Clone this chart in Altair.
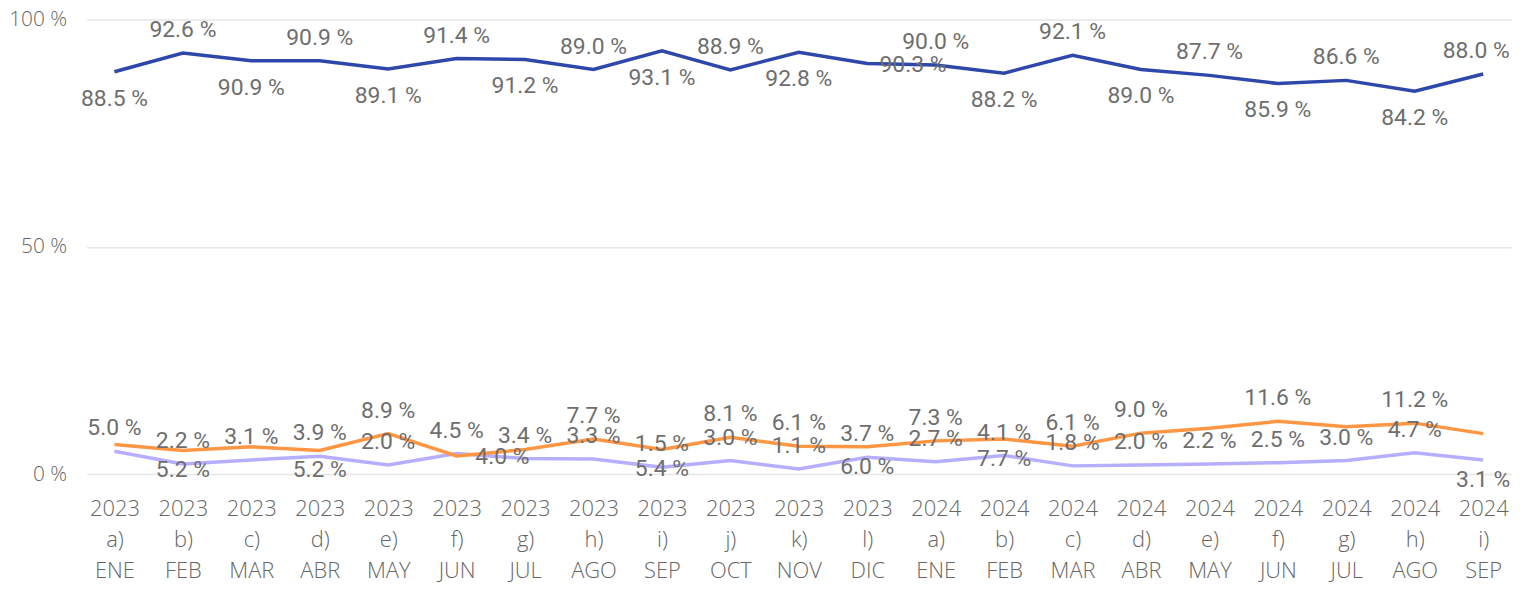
import altair as alt
import pandas as pd

years = ["2023"] * 12 + ["2024"] * 9
letters = ["a)", "b)", "c)", "d)", "e)", "f)", "g)", "h)", "i)", "j)", "k)", "l)",
           "a)", "b)", "c)", "d)", "e)", "f)", "g)", "h)", "i)"]
months = ["ENE", "FEB", "MAR", "ABR", "MAY", "JUN", "JUL", "AGO", "SEP", "OCT", "NOV", "DIC",
          "ENE", "FEB", "MAR", "ABR", "MAY", "JUN", "JUL", "AGO", "SEP"]

series_names = ["Sí", "No", "No sabe"]
series_colors = ["#2D47AA", "#FF9643", "#B6AEFF"]

blue = [88.5, 92.6, 90.9, 90.9, 89.1, 91.4, 91.2, 89.0, 93.1, 88.9, 92.8, 90.3,
        90.0, 88.2, 92.1, 89.0, 87.7, 85.9, 86.6, 84.2, 88.0]
orange = [6.5, 5.2, 6.0, 5.2, 8.9, 4.0, 5.4, 7.7, 5.4, 8.1, 6.1, 6.0,
          7.3, 7.7, 6.1, 9.0, 10.1, 11.6, 10.4, 11.2, 8.9]
lavender = [5.0, 2.2, 3.1, 3.9, 2.0, 4.5, 3.4, 3.3, 1.5, 3.0, 1.1, 3.7,
            2.7, 4.1, 1.8, 2.0, 2.2, 2.5, 3.0, 4.7, 3.1]

# label placement relative to each point ("" = label hidden, as in the original)
blue_place = ["below", "above", "below", "above", "below", "above", "below", "above", "below",
              "above", "below", "right", "above", "below", "above", "below", "above", "below",
              "above", "below", "aboveleft"]
orange_place = ["", "below", "", "below", "above", "right", "", "above", "below", "above",
                "above", "below", "above", "below", "above", "above", "", "above", "",
                "above", ""]
lavender_place = ["above"] * 20 + ["below"]

cats = [f"{y}|{l}|{m}" for y, l, m in zip(years, letters, months)]

rows = []
for name, vals, places in zip(series_names, [blue, orange, lavender],
                              [blue_place, orange_place, lavender_place]):
    for c, v, p in zip(cats, vals, places):
        rows.append({"cat": c, "serie": name, "valor": v, "pos": p,
                     "txt": f"{v:.1f} %"})
df = pd.DataFrame(rows)

x = alt.X("cat:N", sort=cats, title=None,
          scale=alt.Scale(type="point", padding=0.407),
          axis=alt.Axis(labelExpr="split(datum.label, '|')", labelAngle=0,
                        labelLineHeight=31, labelFontSize=22, labelFont="Open Sans",
                        labelFontWeight=300,
                        labelColor="#666666", labelPadding=25, ticks=False, tickSize=0,
                        domain=False, grid=False))
y = alt.Y("valor:Q", title=None,
          scale=alt.Scale(domain=[0, 100], nice=False),
          axis=alt.Axis(values=[0, 50, 100], labelExpr="datum.value + ' %'",
                        labelFontSize=21, labelFont="Open Sans", labelFontWeight=300,
                        labelColor="#666666",
                        labelPadding=20, ticks=False, tickSize=0, domain=False,
                        gridColor="#e6e6e6", gridWidth=1.5))
color = alt.Color("serie:N", scale=alt.Scale(domain=series_names, range=series_colors),
                  legend=None)

base = alt.Chart(df)
lines = base.mark_line(strokeWidth=3.5).encode(x=x, y=y, color=color)

text_props = dict(font="Roboto", fontSize=23, color="#6E6E6E", baseline="middle",
                  align="center")

layers = [lines.transform_filter(alt.datum.serie == "No sabe"),
          lines.transform_filter(alt.datum.serie == "No"),
          lines.transform_filter(alt.datum.serie == "Sí")]


def labels(cond, **kw):
    return base.mark_text(**text_props, **kw).encode(
        x=x, y=y, text="txt:N").transform_filter(cond)


lbl_above = labels(alt.datum.pos == "above", dy=-23)
lbl_above_left = labels(alt.datum.pos == "aboveleft", dy=-23, dx=-7)
lbl_below_blue = labels((alt.datum.pos == "below") & (alt.datum.serie == "Sí"), dy=27)
lbl_below_other = labels((alt.datum.pos == "below") & (alt.datum.serie != "Sí"), dy=20)
lbl_right = labels(alt.datum.pos == "right", dx=46, dy=1)

chart = alt.layer(*layers, lbl_above, lbl_above_left, lbl_below_blue, lbl_below_other,
                  lbl_right).properties(
    width=1432, height=457,
    autosize=alt.AutoSizeParams(type="none"),
    padding={"left": 79, "top": 10, "right": 4, "bottom": 109},
).configure_view(stroke=None)

chart.save("out.html", embed_options={"renderer": "svg", "actions": False})
